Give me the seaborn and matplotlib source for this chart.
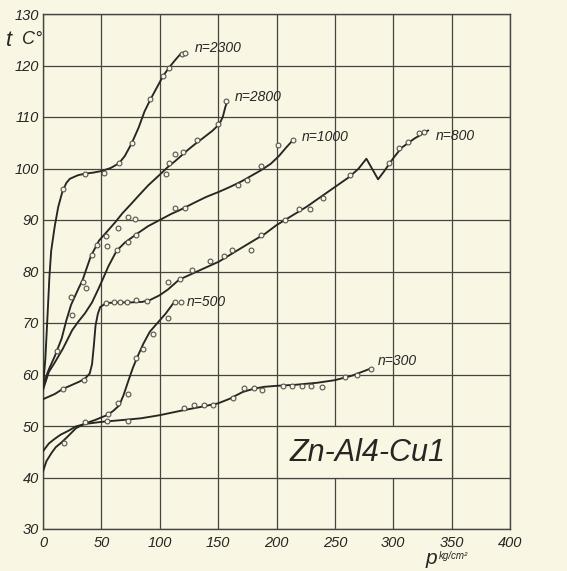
import matplotlib
matplotlib.use("Agg")
import matplotlib.pyplot as plt
import seaborn as sns
from matplotlib.patches import Rectangle

sns.set_theme(style="white")
FONT = ["Liberation Sans", "DejaVu Sans"]
plt.rcParams["font.family"] = FONT

PAPER = "#f9f6e4"
INK = "#262622"
GRID = "#45453f"

# Specific pressure p (kg/cm2) and bearing temperature t (deg C), one curve per speed n
p_2300 = [0, 2, 4, 5.5, 7, 10, 13, 16.6, 20, 23, 30, 36, 43, 50, 58, 65, 70, 76, 82, 87, 92, 97, 103, 108, 113, 118, 122]
t_2300 = [57.5, 63, 72, 79, 84, 88.7, 92.5, 95.5, 97.2, 98, 98.7, 99, 99.2, 99.5, 100.1, 101, 102.4, 104.9, 108, 111.1, 113.4, 115.5, 118, 119.6, 121, 122.3, 122.6]

p_2800 = [0, 5, 10, 16, 20, 24, 30, 34, 41, 48, 55, 62, 68, 75, 81, 90, 100, 107, 113, 118, 123.5, 130, 137, 145, 151, 154, 156, 158]
t_2800 = [58, 61, 63.5, 67, 70.5, 73.5, 76.5, 78.4, 83, 86, 87.8, 89.6, 91.3, 93, 94.5, 96.7, 98.8, 100.3, 101.4, 102.4, 103.5, 104.7, 105.9, 107.3, 108.6, 110, 111.8, 113.2]

p_1000 = [0, 5, 10, 17, 25, 30, 36, 42, 47, 51, 56, 63, 70, 81, 90, 100, 110, 117, 130, 140, 151, 160, 170, 177, 187, 195, 202, 208, 214]
t_1000 = [57, 60.5, 62.3, 65, 68.6, 70.2, 71.9, 74, 76.4, 78.4, 81, 84, 85.6, 87.4, 88.8, 90, 91.2, 91.9, 93.4, 94.5, 95.5, 96.4, 97.5, 98.4, 99.7, 100.9, 102.4, 104, 105.5]

p_800 = [0, 10, 17, 25, 31, 36, 40, 42, 43.5, 45, 47, 49, 53, 56, 65, 75, 85, 92, 100, 107, 116.5, 130, 150.5, 165, 176.7, 190, 200, 213, 226, 238, 250, 262, 270, 277, 282, 287, 292, 300, 307, 318, 330]
t_800 = [55.2, 56.2, 57.2, 58, 58.6, 59.2, 60.2, 62, 65.5, 69.5, 71.8, 73.1, 73.7, 73.9, 74, 74, 74.1, 74.5, 75.4, 76.5, 78.4, 79.8, 81.9, 83.9, 85.5, 87.3, 89, 90.8, 92.6, 94.5, 96.4, 98.3, 99.9, 101.9, 99.9, 97.9, 99.4, 102, 104, 105.8, 107.4]

p_500 = [0, 3, 7.4, 11, 15.3, 20, 28.4, 36.3, 45, 54.7, 60, 65.3, 69, 73, 77, 81, 86, 91.5, 98, 105, 111.5]
t_500 = [41.2, 43.2, 44.8, 45.9, 46.7, 47.7, 49.6, 50.5, 51.2, 52.1, 52.9, 54, 56, 58.7, 61.3, 63.5, 66, 68.3, 70, 71.8, 73.8]

p_300 = [0, 5, 10, 15, 22, 28, 36, 50, 70, 84, 100, 121, 135, 150, 160, 171, 180, 189, 200, 216, 235, 250, 265, 280]
t_300 = [45.1, 46.6, 47.5, 48.3, 49.1, 49.9, 50.4, 50.8, 51.2, 51.5, 52.1, 53.1, 53.7, 54.4, 55.3, 56.6, 57.2, 57.6, 57.8, 58, 58.4, 58.9, 59.8, 61.1]

# Measured points (open circles)
mp_2300 = [17, 36, 52, 65, 76, 92, 103, 108, 119, 122]
mt_2300 = [96, 99, 99.2, 101, 105, 113.5, 118, 119.5, 122.3, 122.5]

mp_2800 = [12, 24, 34.5, 42, 46, 54, 55, 64, 73, 79, 105, 108, 113, 120, 132, 150, 157]
mt_2800 = [64.5, 75, 78, 83.2, 85.2, 86.8, 85, 88.5, 90.5, 90.1, 99, 101, 102.8, 103.3, 105.5, 108.7, 113.2]

mp_1000 = [25, 37, 63, 73, 80, 113, 122, 167, 175, 187, 201, 214]
mt_1000 = [71.6, 76.8, 84.2, 85.8, 87.1, 92.3, 92.4, 96.8, 97.7, 100.5, 104.5, 105.6]

mp_800 = [17, 35, 54, 61, 66, 72, 80, 89, 107, 117, 128, 143, 155, 162, 178, 187, 207, 219, 229, 240, 263, 296, 305, 313, 322, 326]
mt_800 = [57.1, 58.9, 73.9, 74.1, 74.1, 74.1, 74.4, 74.2, 78, 78.6, 80.3, 82, 83, 84.2, 84.2, 87.1, 90, 92.1, 92.1, 94.2, 98.7, 101, 103.9, 105.2, 106.8, 107.1]

mp_500 = [18, 36, 56, 64, 73, 80, 86, 94, 107, 113, 118]
mt_500 = [46.7, 50.8, 52.4, 54.4, 56.3, 63.3, 64.9, 67.9, 70.9, 74, 74]

mp_300 = [55, 73, 121, 129, 138, 146, 163, 172.5, 180.5, 188, 205.6, 213.5, 221.5, 229.5, 238.7, 258.6, 269, 281]
mt_300 = [50.9, 51, 53.5, 54, 54, 54, 55.5, 57.4, 57.4, 57, 57.8, 57.8, 57.8, 57.8, 57.5, 59.6, 60, 61.1]

x_ticks = [0, 50, 100, 150, 200, 250, 300, 350, 400]
y_ticks = [30, 40, 50, 60, 70, 80, 90, 100, 110, 120, 130]

curves = [
    ("n=2300", p_2300, t_2300, mp_2300, mt_2300, (130, 123.4)),
    ("n=2800", p_2800, t_2800, mp_2800, mt_2800, (164.5, 113.9)),
    ("n=1000", p_1000, t_1000, mp_1000, mt_1000, (222, 106.1)),
    ("n=800", p_800, t_800, mp_800, mt_800, (336, 106.3)),
    ("n=500", p_500, t_500, mp_500, mt_500, (123, 74.0)),
    ("n=300", p_300, t_300, mp_300, mt_300, (287, 62.6)),
]

fig = plt.figure(figsize=(5.67, 5.71), dpi=100, facecolor=PAPER)
ax = fig.add_axes([43 / 567, 42 / 571, 467 / 567, 515 / 571])
ax.set_facecolor(PAPER)

for label, px, ty, mx, my, pos in curves:
    sns.lineplot(x=px, y=ty, ax=ax, color=INK, lw=1.35, sort=False,
                 estimator=None, zorder=4)
    sns.scatterplot(x=mx, y=my, ax=ax, marker="o", s=12, facecolor=PAPER,
                    edgecolor="#55554f", linewidth=0.8, zorder=5)
    ax.text(pos[0], pos[1], label, fontsize=10, style="italic", color=INK,
            ha="left", va="center", zorder=6)

# alloy designation in a framed cell of the grid
ax.add_patch(Rectangle((200, 40), 150, 10, facecolor=PAPER, edgecolor=GRID,
                       lw=0.9, zorder=2))
ax.text(278, 44.8, "Zn-Al4-Cu1", fontsize=22, style="italic", color=INK,
        ha="center", va="center", zorder=3)

ax.set_xlim(0, 400)
ax.set_ylim(30, 130)
ax.set_xticks(x_ticks)
ax.set_yticks(y_ticks)
ax.set_xticklabels([str(v) for v in x_ticks])
ax.set_yticklabels([str(v) for v in y_ticks])
ax.grid(True, color=GRID, lw=0.9)
ax.set_axisbelow(True)
for sp in ax.spines.values():
    sp.set_color(GRID)
    sp.set_linewidth(1.0)
ax.tick_params(axis="both", length=0, labelsize=10.5, colors=INK)
ax.tick_params(axis="x", pad=5)
ax.tick_params(axis="y", pad=3)
for lab in ax.get_xticklabels() + ax.get_yticklabels():
    lab.set_fontstyle("italic")
ax.set_xlabel("")
ax.set_ylabel("")

fig.text(6 / 567, 1 - 40 / 571, "t", fontsize=16, style="italic", color=INK,
         va="center", ha="left")
fig.text(22 / 567, 1 - 39 / 571, "C°", fontsize=13, style="italic", color=INK,
         va="center", ha="left")
fig.text(426 / 567, 1 - 559 / 571, "p", fontsize=15, style="italic", color=INK,
         va="center", ha="left")
fig.text(439 / 567, 1 - 556 / 571, "kg/cm²", fontsize=7, style="italic",
         color=INK, va="center", ha="left")

fig.savefig("out.png", dpi=100, facecolor=PAPER)
